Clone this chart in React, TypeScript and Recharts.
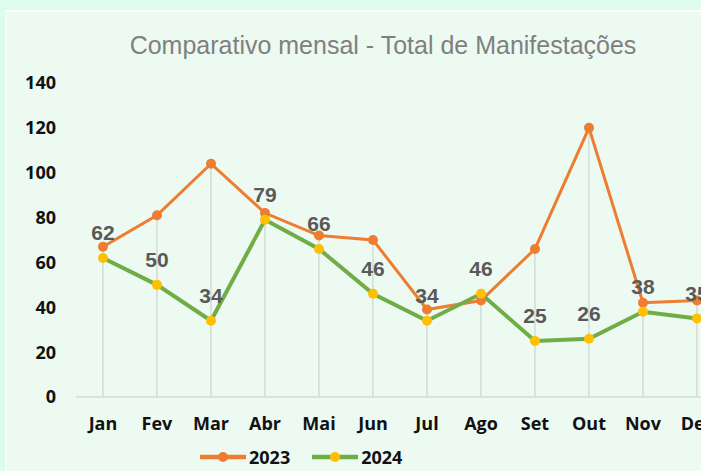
import { Line, Bar, XAxis, YAxis, LabelList, ComposedChart } from 'recharts'

const months = ['Jan', 'Fev', 'Mar', 'Abr', 'Mai', 'Jun', 'Jul', 'Ago', 'Set', 'Out', 'Nov', 'Dez']
const values2023 = [67, 81, 104, 82, 72, 70, 39, 43, 66, 120, 42, 43]
const values2024 = [62, 50, 34, 79, 66, 46, 34, 46, 25, 26, 38, 35]
const yTicks = [0, 20, 40, 60, 80, 100, 120, 140]

const data = months.map((m, i) => ({
  month: m,
  y2023: values2023[i],
  y2024: values2024[i],
  drop: Math.max(values2023[i], values2024[i]),
}))

const ORANGE = '#ED7D31'
const GREEN = '#70AD47'
const YELLOW = '#FFC000'
const TICK_FONT = { fontFamily: "'Open Sans', sans-serif", fontWeight: 700, fontSize: 18, fill: '#111' }

// Excel-style drop line from the highest point down to the axis
function DropLine(props: any) {
  const { x, y, width, height } = props
  if (x == null) return null
  const cx = x + width / 2
  return <line x1={cx} x2={cx} y1={y} y2={y + height} stroke="#d3dcd7" strokeWidth={1.5} />
}

function LegendItem({ line, dot, label }: { line: string; dot: string; label: string }) {
  return (
    <div style={{ display: 'flex', alignItems: 'center', marginRight: 22 }}>
      <svg width={46} height={12}>
        <line x1={0} x2={46} y1={6} y2={6} stroke={line} strokeWidth={4.5} />
        <circle cx={23} cy={6} r={5} fill={dot} />
      </svg>
      <span style={{ fontFamily: "'Open Sans', sans-serif", fontWeight: 700, fontSize: 18, color: '#111', marginLeft: 3, lineHeight: '20px' }}>
        {label}
      </span>
    </div>
  )
}

export default function App() {
  return (
    <div style={{ position: 'fixed', left: 0, top: 0, width: 701, height: 471, background: '#DCFCEE', overflow: 'hidden' }}>
      <div
        style={{
          position: 'absolute',
          left: 5,
          top: 10,
          width: 800,
          height: 470,
          background: '#ECFAF2',
          borderTop: '2px solid #ffffff',
          borderLeft: '2px solid #f4fdf8',
        }}
      />
      <div
        style={{
          position: 'absolute',
          left: 0,
          width: 766,
          top: 31,
          textAlign: 'center',
          fontFamily: "'Liberation Sans', Arial, sans-serif",
          fontSize: 25,
          color: '#808080',
        }}
      >
        Comparativo mensal - Total de Manifestações
      </div>
      <div style={{ position: 'absolute', top: 0, left: 0 }}>
        <ComposedChart width={770} height={471} data={data} margin={{ top: 83, right: 46, bottom: 44, left: 0 }}>
          <XAxis
            dataKey="month"
            axisLine={{ stroke: '#d9d9d9', strokeWidth: 1.5 }}
            tickLine={false}
            tickSize={0}
            tickMargin={20}
            height={30}
            interval={0}
            tick={TICK_FONT}
          />
          <YAxis
            domain={[0, 140]}
            ticks={yTicks}
            width={76}
            axisLine={false}
            tickLine={false}
            tickSize={0}
            tickMargin={20}
            tick={TICK_FONT}
          />
          <Bar dataKey="drop" shape={<DropLine />} isAnimationActive={false} />
          <Line
            dataKey="y2023"
            stroke={ORANGE}
            strokeWidth={3}
            dot={{ r: 5, fill: ORANGE, stroke: ORANGE, strokeWidth: 0 }}
            isAnimationActive={false}
          />
          <Line
            dataKey="y2024"
            stroke={GREEN}
            strokeWidth={4}
            dot={{ r: 5, fill: YELLOW, stroke: YELLOW, strokeWidth: 0 }}
            isAnimationActive={false}
          >
            <LabelList
              dataKey="y2024"
              position="top"
              offset={18}
              style={{ fontFamily: "'Liberation Sans', Arial, sans-serif", fontWeight: 700, fontSize: 21, fill: '#595959' }}
            />
          </Line>
        </ComposedChart>
      </div>
      <div style={{ position: 'absolute', top: 447, left: 200, display: 'flex' }}>
        <LegendItem line={ORANGE} dot={ORANGE} label="2023" />
        <LegendItem line={GREEN} dot={YELLOW} label="2024" />
      </div>
    </div>
  )
}
